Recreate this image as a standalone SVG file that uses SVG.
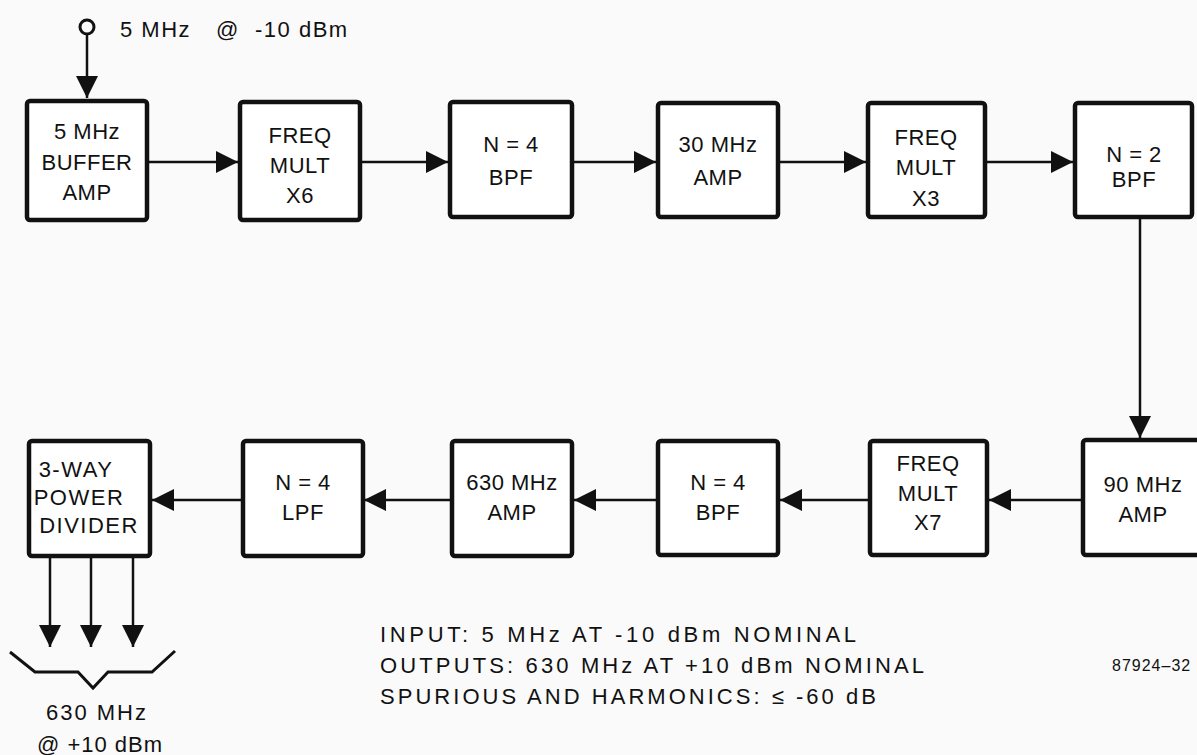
<svg xmlns="http://www.w3.org/2000/svg" width="1197" height="755" viewBox="0 0 1197 755">
<defs>
<style>
.box{fill:#fff;stroke:#111;stroke-width:4.5}
.t{font-family:"Liberation Sans",Arial,sans-serif;font-size:22px;fill:#111;text-anchor:middle;letter-spacing:0.5px}
.w{letter-spacing:1.5px}
.l{font-family:"Liberation Sans",Arial,sans-serif;font-size:22px;fill:#111;letter-spacing:1px}
.c{fill:none;stroke:#111;stroke-width:2.5}
</style>
<marker id="ah" markerUnits="userSpaceOnUse" markerWidth="22" markerHeight="22" refX="22" refY="11" orient="auto">
<path d="M0,0 L22,11 L0,22 z" fill="#111"/>
</marker>
</defs>
<rect width="1197" height="755" fill="#fafafa"/>
<g id="connectors">
<circle cx="87" cy="27" r="7" fill="none" stroke="#111" stroke-width="3"/>
<line class="c" x1="87" y1="34" x2="87" y2="98" marker-end="url(#ah)"/>
<line class="c" x1="149" y1="162" x2="238" y2="162" marker-end="url(#ah)"/>
<line class="c" x1="362" y1="162" x2="448" y2="162" marker-end="url(#ah)"/>
<line class="c" x1="574" y1="162" x2="656" y2="162" marker-end="url(#ah)"/>
<line class="c" x1="780" y1="162" x2="866" y2="162" marker-end="url(#ah)"/>
<line class="c" x1="987" y1="162" x2="1073" y2="162" marker-end="url(#ah)"/>
<line class="c" x1="1140" y1="219" x2="1140" y2="438" marker-end="url(#ah)"/>
<line class="c" x1="1081" y1="500" x2="989" y2="500" marker-end="url(#ah)"/>
<line class="c" x1="868" y1="500" x2="780" y2="500" marker-end="url(#ah)"/>
<line class="c" x1="656" y1="500" x2="574" y2="500" marker-end="url(#ah)"/>
<line class="c" x1="450" y1="500" x2="364" y2="500" marker-end="url(#ah)"/>
<line class="c" x1="241" y1="500" x2="152" y2="500" marker-end="url(#ah)"/>
<line class="c" x1="50" y1="558" x2="50" y2="647" marker-end="url(#ah)"/>
<line class="c" x1="91" y1="558" x2="91" y2="647" marker-end="url(#ah)"/>
<line class="c" x1="133" y1="558" x2="133" y2="647" marker-end="url(#ah)"/>
<path d="M10,652 L35,672 L78,672 L93,688 L108,672 L152,672 L175,651" fill="none" stroke="#111" stroke-width="3"/>
</g>
<g id="input-label"><text class="l" x="120" y="37" style="letter-spacing:1.5px">5 MHz<tspan x="216">@</tspan><tspan x="255">-10 dBm</tspan></text></g>
<g id="n1"><rect class="box" x="27" y="101" width="120" height="119" rx="3"/><text class="t" x="87" y="139">5 MHz</text><text class="t" x="87" y="170">BUFFER</text><text class="t" x="87" y="200">AMP</text></g>
<g id="n2"><rect class="box" x="240" y="102" width="120" height="118" rx="3"/><text class="t" x="300" y="143">FREQ</text><text class="t" x="300" y="173">MULT</text><text class="t" x="300" y="203">X6</text></g>
<g id="n3"><rect class="box" x="450" y="102" width="122" height="115" rx="3"/><text class="t" x="511" y="152">N = 4</text><text class="t" x="511" y="185">BPF</text></g>
<g id="n4"><rect class="box" x="658" y="103" width="120" height="114" rx="3"/><text class="t" x="718" y="152">30 MHz</text><text class="t" x="718" y="185">AMP</text></g>
<g id="n5"><rect class="box" x="868" y="103" width="117" height="114" rx="3"/><text class="t" x="926" y="145">FREQ</text><text class="t" x="926" y="175">MULT</text><text class="t" x="926" y="206">X3</text></g>
<g id="n6"><rect class="box" x="1075" y="103" width="117" height="114" rx="3"/><text class="t" x="1134" y="162">N = 2</text><text class="t" x="1134" y="187">BPF</text></g>
<g id="n7"><rect class="box" x="1083" y="440" width="120" height="115" rx="3"/><text class="t" x="1143" y="492">90 MHz</text><text class="t" x="1143" y="522">AMP</text></g>
<g id="n8"><rect class="box" x="870" y="441" width="117" height="114" rx="3"/><text class="t" x="928" y="471">FREQ</text><text class="t" x="928" y="501">MULT</text><text class="t" x="928" y="530">X7</text></g>
<g id="n9"><rect class="box" x="658" y="441" width="120" height="114" rx="3"/><text class="t" x="718" y="490">N = 4</text><text class="t" x="718" y="520">BPF</text></g>
<g id="n10"><rect class="box" x="452" y="441" width="120" height="115" rx="3"/><text class="t" x="512" y="490">630 MHz</text><text class="t" x="512" y="520">AMP</text></g>
<g id="n11"><rect class="box" x="243" y="441" width="120" height="115" rx="3"/><text class="t" x="303" y="490">N = 4</text><text class="t" x="303" y="520">LPF</text></g>
<g id="n12"><rect class="box" x="29" y="441" width="121" height="115" rx="3"/><text class="t w" x="76" y="477">3-WAY</text><text class="t w" x="79" y="505">POWER</text><text class="t w" x="89" y="533">DIVIDER</text></g>
<g id="output-label"><text class="l" x="97" y="720" style="text-anchor:middle;letter-spacing:2px">630 MHz</text><text class="l" x="100" y="752" style="text-anchor:middle">@ +10 dBm</text></g>
<g id="notes">
<text class="l" x="380" y="642" textLength="477" lengthAdjust="spacing">INPUT:  5 MHz AT -10 dBm NOMINAL</text>
<text class="l" x="380" y="673" textLength="545" lengthAdjust="spacing">OUTPUTS:  630 MHz AT +10 dBm NOMINAL</text>
<text class="l" x="380" y="704" textLength="497" lengthAdjust="spacing">SPURIOUS AND HARMONICS:  ≤ -60 dB</text>
<text x="1112" y="671" style="font-family:'Liberation Sans',Arial,sans-serif;font-size:16px;fill:#111;letter-spacing:1px">87924–32</text>
</g>
</svg>
